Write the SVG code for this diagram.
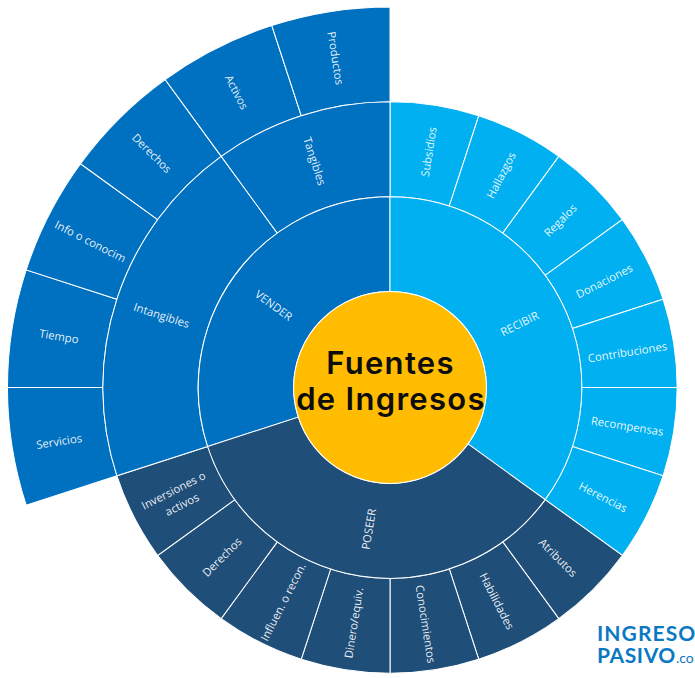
<svg xmlns="http://www.w3.org/2000/svg" width="695" height="678" viewBox="0 0 695 678">
<style>
.s{stroke:#fff;stroke-width:1;stroke-linejoin:miter}
.v{fill:#0070C0}.r{fill:#00B0F0}.p{fill:#1F4E79}.c{fill:#FFBC00}
text{font-family:"Open Sans","Liberation Sans",sans-serif}
.l{fill:#fff;font-size:11.3px;text-anchor:middle;dominant-baseline:central;fill-opacity:.92}
.t{fill:#0d0d0d;font-family:Inter,"Liberation Sans",sans-serif;font-size:31px;font-weight:600;letter-spacing:1.3px;text-anchor:middle}
.m{fill:#0A78C2;font-family:Lato,"Liberation Sans",sans-serif;font-weight:700;font-size:21px}
</style>
<rect width="695" height="678" fill="#fff"/>
<g id="sectors" transform="translate(390 387.5) scale(1.004 0.999)">
<g id="recibir-leaves" class="r">
<path id="n-subsidios" class="s" d="M0,-191V-286A286,286 0 0 1 88.38,-272L59.02,-181.65A191,191 0 0 0 0,-191Z"/>
<path id="n-hallazgos" class="s" d="M59.02,-181.65L88.38,-272A286,286 0 0 1 168.11,-231.38L112.27,-154.52A191,191 0 0 0 59.02,-181.65Z"/>
<path id="n-regalos" class="s" d="M112.27,-154.52L168.11,-231.38A286,286 0 0 1 231.38,-168.11L154.52,-112.27A191,191 0 0 0 112.27,-154.52Z"/>
<path id="n-donaciones" class="s" d="M154.52,-112.27L231.38,-168.11A286,286 0 0 1 272,-88.38L181.65,-59.02A191,191 0 0 0 154.52,-112.27Z"/>
<path id="n-contribuciones" class="s" d="M181.65,-59.02L272,-88.38A286,286 0 0 1 286,0H191A191,191 0 0 0 181.65,-59.02Z"/>
<path id="n-recompensas" class="s" d="M191,0H286A286,286 0 0 1 272,88.38L181.65,59.02A191,191 0 0 0 191,0Z"/>
<path id="n-herencias" class="s" d="M181.65,59.02L272,88.38A286,286 0 0 1 231.38,168.11L154.52,112.27A191,191 0 0 0 181.65,59.02Z"/>
</g>
<g id="poseer-leaves" class="p">
<path id="n-atributos" class="s" d="M154.52,112.27L231.38,168.11A286,286 0 0 1 168.11,231.38L112.27,154.52A191,191 0 0 0 154.52,112.27Z"/>
<path id="n-habilidades" class="s" d="M112.27,154.52L168.11,231.38A286,286 0 0 1 88.38,272L59.02,181.65A191,191 0 0 0 112.27,154.52Z"/>
<path id="n-conocimientos" class="s" d="M59.02,181.65L88.38,272A286,286 0 0 1 0,286V191A191,191 0 0 0 59.02,181.65Z"/>
<path id="n-dinero" class="s" d="M0,191V286A286,286 0 0 1 -88.38,272L-59.02,181.65A191,191 0 0 0 0,191Z"/>
<path id="n-influen" class="s" d="M-59.02,181.65L-88.38,272A286,286 0 0 1 -168.11,231.38L-112.27,154.52A191,191 0 0 0 -59.02,181.65Z"/>
<path id="n-derechos-p" class="s" d="M-112.27,154.52L-168.11,231.38A286,286 0 0 1 -231.38,168.11L-154.52,112.27A191,191 0 0 0 -112.27,154.52Z"/>
<path id="n-inversiones" class="s" d="M-154.52,112.27L-231.38,168.11A286,286 0 0 1 -272,88.38L-181.65,59.02A191,191 0 0 0 -154.52,112.27Z"/>
</g>
<g id="vender-leaves" class="v">
<path id="n-servicios" class="s" d="M-272,88.38L-362.35,117.74A381,381 0 0 1 -381,0H-286A286,286 0 0 0 -272,88.38Z"/>
<path id="n-tiempo" class="s" d="M-286,0H-381A381,381 0 0 1 -362.35,-117.74L-272,-88.38A286,286 0 0 0 -286,0Z"/>
<path id="n-info" class="s" d="M-272,-88.38L-362.35,-117.74A381,381 0 0 1 -308.24,-223.95L-231.38,-168.11A286,286 0 0 0 -272,-88.38Z"/>
<path id="n-derechos-v" class="s" d="M-231.38,-168.11L-308.24,-223.95A381,381 0 0 1 -223.95,-308.24L-168.11,-231.38A286,286 0 0 0 -231.38,-168.11Z"/>
<path id="n-activos" class="s" d="M-168.11,-231.38L-223.95,-308.24A381,381 0 0 1 -117.74,-362.35L-88.38,-272A286,286 0 0 0 -168.11,-231.38Z"/>
<path id="n-productos" class="s" d="M-88.38,-272L-117.74,-362.35A381,381 0 0 1 0,-381V-286A286,286 0 0 0 -88.38,-272Z"/>
<path id="n-intangibles" class="s" d="M-181.65,59.02L-272,88.38A286,286 0 0 1 -168.11,-231.38L-112.27,-154.52A191,191 0 0 0 -181.65,59.02Z"/>
<path id="n-tangibles" class="s" d="M-112.27,-154.52L-168.11,-231.38A286,286 0 0 1 0,-286V-191A191,191 0 0 0 -112.27,-154.52Z"/>
</g>
<path id="n-vender" class="s v" d="M-91.3,29.67L-181.65,59.02A191,191 0 0 1 0,-191V-96A96,96 0 0 0 -91.3,29.67Z"/>
<path id="n-recibir" class="s r" d="M0,-96V-191A191,191 0 0 1 154.52,112.27L77.66,56.43A96,96 0 0 0 0,-96Z"/>
<path id="n-poseer" class="s p" d="M77.66,56.43L154.52,112.27A191,191 0 0 1 -181.65,59.02L-91.3,29.67A96,96 0 0 0 77.66,56.43Z"/>
<circle id="n-centro" class="s c" r="96"/>
</g>
<g id="labels">
<text class="l" transform="translate(336 58) rotate(81)">Productos</text>
<text class="l" transform="translate(237 92) rotate(63)">Activos</text>
<text class="l" transform="translate(152 153) rotate(45)">Derechos</text>
<text class="l" transform="translate(90.5 241) rotate(27)">Info o conocim</text>
<text class="l" transform="translate(59 336) rotate(9)">Tiempo</text>
<text class="l" transform="translate(59 441) rotate(-9)">Servicios</text>
<text class="l" transform="translate(315 161) rotate(72)">Tangibles</text>
<text class="l" transform="translate(161.7 315) rotate(18)">Intangibles</text>
<text class="l" transform="translate(274 305) rotate(36)">VENDER</text>
<text class="l" transform="translate(519.3 323.3) rotate(-27)">RECIBIR</text>
<text class="l" transform="translate(428.3 151.7) rotate(-81)">Subsidios</text>
<text class="l" transform="translate(500.7 175) rotate(-63)">Hallazgos</text>
<text class="l" transform="translate(560 220) rotate(-45)">Regalos</text>
<text class="l" transform="translate(604 280.7) rotate(-27)">Donaciones</text>
<text class="l" transform="translate(627.3 351.7) rotate(-9)">Contribuciones</text>
<text class="l" transform="translate(627.3 425.7) rotate(9)">Recompensas</text>
<text class="l" transform="translate(603.3 496.7) rotate(27)">Herencias</text>
<text class="l" transform="translate(368.3 529) rotate(-81)">POSEER</text>
<text class="l" transform="translate(558.3 557.3) rotate(45)">Atributos</text>
<text class="l" transform="translate(497.3 601) rotate(63)">Habilidades</text>
<text class="l" transform="translate(426 624) rotate(81)">Conocimientos</text>
<text class="l" transform="translate(353.3 622.7) rotate(-81)">Dinero/equiv.</text>
<text class="l" transform="translate(282.7 601.7) rotate(-63)">Influen. o recon.</text>
<text class="l" transform="translate(221.7 556.7) rotate(-45)">Derechos</text>
<text class="l" transform="translate(173.3 490) rotate(-27)">Inversiones o</text>
<text class="l" transform="translate(181.7 504) rotate(-27)">activos</text>
<text class="t" x="390.5" y="373.5">Fuentes</text>
<text class="t" x="391" y="410">de Ingresos</text>
</g>
<g id="logo">
<text class="m" x="597" y="641" letter-spacing="1.1">INGRESO</text>
<text class="m" x="597" y="663" letter-spacing=".6">PASIVO<tspan font-size="14" font-weight="400" letter-spacing="0">.co</tspan></text>
</g>
</svg>
